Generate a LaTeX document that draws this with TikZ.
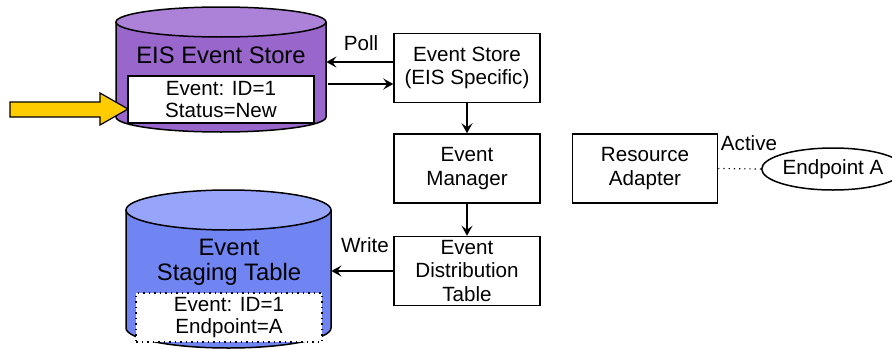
\documentclass[tikz,border=0pt]{standalone}
\usepackage{fontspec}
\setmainfont{Liberation Sans}
\usetikzlibrary{arrows.meta,calc,shapes.geometric}

\definecolor{storebody}{RGB}{153,102,204}
\definecolor{storetop}{RGB}{172,130,216}
\definecolor{stagebody}{RGB}{112,132,242}
\definecolor{stagetop}{RGB}{150,164,250}
\definecolor{pointer}{RGB}{255,204,0}

\tikzset{
  box/.style={draw,line width=0.75pt,minimum width=73pt,minimum height=34.5pt,
    align=center,inner sep=1pt,font=\fontsize{10.3pt}{11.6pt}\selectfont},
  record/.style={draw,fill=white,line width=0.75pt,minimum width=93pt,minimum height=23.5pt,
    align=center,inner sep=0pt,font=\fontsize{10.3pt}{11.3pt}\selectfont},
  dbtitle/.style={align=center,inner sep=0pt,font=\fontsize{11.9pt}{12.6pt}\selectfont},
  lbl/.style={inner sep=0pt,font=\fontsize{10.3pt}{11.6pt}\selectfont},
  flow/.style={line width=0.75pt,-{Stealth[length=5pt,width=5.5pt,inset=2pt]}},
  body/.style={minimum width=#1,inner sep=0pt}
}

\begin{document}
\begin{tikzpicture}[x=0.5pt, y=-0.5pt]
    \useasboundingbox (0,0) rectangle (892,348);

    % EIS event store (purple)
    \fill[storebody] (116,22) -- (116,117) arc[start angle=180,end angle=360,x radius=52.5pt,y radius=7.5pt] -- (326,22) -- cycle;
    \draw[line width=0.75pt] (116,22) -- (116,117) arc[start angle=180,end angle=360,x radius=52.5pt,y radius=7.5pt] -- (326,22);
    \draw[line width=0.75pt,fill=storetop] (221,22) ellipse [x radius=52.5pt,y radius=7.5pt];
    \node[body=105pt,minimum height=47.5pt] (store) at (221,69.5) {};
    \node[dbtitle] (storetitle) at (221,55) {EIS Event Store};
    \node[record] (storerec) at (221,99.5) {Event: ID=1\\Status=New};

    % pointer
    \draw[fill=pointer,line width=0.6pt] (10,102) -- (100,102) -- (100,93) -- (128,109)
        -- (100,125) -- (100,117) -- (10,117) -- cycle;

    % event staging table (blue)
    \fill[stagebody] (126,210) -- (126,328) arc[start angle=180,end angle=360,x radius=51.25pt,y radius=10pt] -- (331,210) -- cycle;
    \draw[line width=0.75pt] (126,210) -- (126,328) arc[start angle=180,end angle=360,x radius=51.25pt,y radius=10pt] -- (331,210);
    \draw[line width=0.75pt,fill=stagetop] (228.5,210) ellipse [x radius=51.25pt,y radius=10pt];
    \node[body=102.5pt,minimum height=59pt] (staging) at (228.5,269) {};
    \node[dbtitle] (stagingtitle) at (229,262) {Event\\Staging Table};
    \node[record,dotted,minimum width=93pt,minimum height=24.5pt] (stagingrec) at (229,317.5) {Event: ID=1\\Endpoint=A};

    % boxes
    \node[box] (estore) at (467,68) {Event Store\\(EIS Specific)};
    \node[box] (manager) at (467,168.5) {Event\\Manager};
    \node[box] (dist) at (467,271) {Event\\Distribution\\Table};
    \node[box,minimum width=72.5pt] (adapter) at (645,168.5) {Resource\\Adapter};
    \node[draw,ellipse,line width=0.75pt,minimum width=70pt,minimum height=21pt,inner sep=0pt,
      font=\fontsize{10.3pt}{11.6pt}\selectfont] (endpoint) at (833,169) {Endpoint A};

    % connectors
    \draw[flow] ([yshift=3pt]estore.west) -- ([yshift=3pt]estore.west -| store.east);
    \draw[flow] ([yshift=-8pt,xshift=1pt]estore.west -| store.east) -- ([yshift=-8pt]estore.west);
    \draw[flow] (estore) -- (manager);
    \draw[flow] (manager) -- (dist);
    \draw[flow] (dist.west) -- (dist.west -| staging.east);
    \draw[dotted,line width=0.6pt] (adapter.east) -- (endpoint.west);

    \node[lbl] (poll) at (361,43) {Poll};
    \node[lbl] (write) at (365,245) {Write};
    \node[lbl] (active) at (749,143) {Active};
\end{tikzpicture}
\end{document}
